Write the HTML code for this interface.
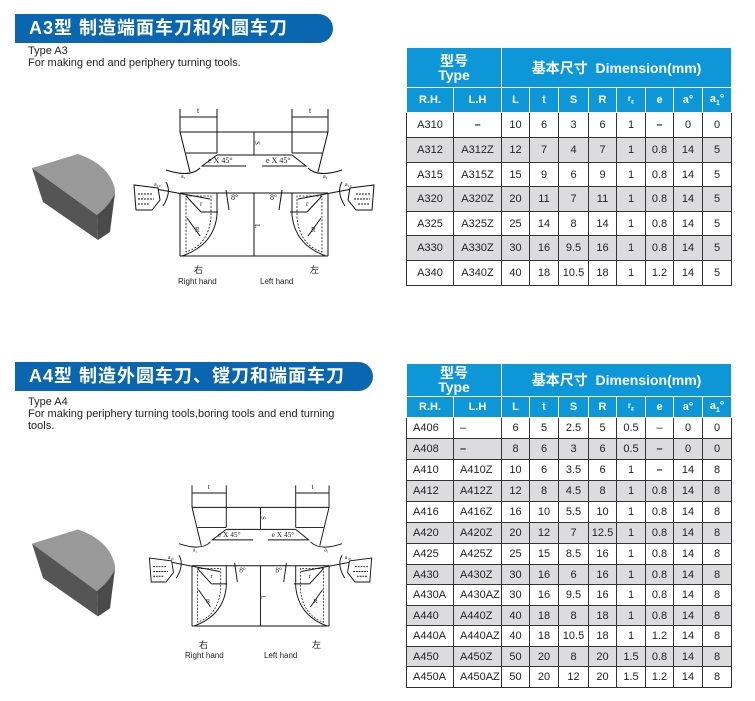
<!DOCTYPE html>
<html><head><meta charset="utf-8"><style>
body{margin:0;width:755px;height:701px;background:#fff;position:relative;overflow:hidden;font-family:"Liberation Sans","Noto Sans CJK SC",sans-serif;}
.bar{position:absolute;left:15px;height:29px;background:#0a66b0;border-radius:0 15px 15px 0;color:#fff;font-weight:bold;font-size:18px;line-height:29px;padding-left:14px;box-sizing:border-box;letter-spacing:1px;}
.txt{position:absolute;left:28px;font-size:11px;line-height:12px;color:#222;}
table{position:absolute;left:406px;border-collapse:collapse;table-layout:fixed;font-size:11px;color:#222;}
td{border:1px solid #333;text-align:center;padding:0;overflow:hidden;white-space:nowrap;}
tr.h td{background:#0d97d9;color:#fff;border-color:#fff;font-weight:bold;}
tr.h1 td{font-size:14px;line-height:14px;}
tr.g td{background:#dcdcde;}
svg{position:absolute;left:0;top:0;}
</style></head><body>
<div class="bar" style="top:14px;width:318px;">A3型 制造端面车刀和外圆车刀</div>
<div class="txt" style="top:45px;">Type A3<br>For making end and periphery turning tools.</div>

<div class="bar" style="top:362px;width:358px;">A4型 制造外圆车刀、镗刀和端面车刀</div>
<div class="txt" style="top:396px;">Type A4<br>For making periphery turning tools,boring tools and end turning<br>tools.</div>

<table style="top:47px;width:325px;">
<colgroup><col style="width:47px"><col style="width:48px"><col style="width:28px"><col style="width:29px"><col style="width:30px"><col style="width:28px"><col style="width:29px"><col style="width:28px"><col style="width:29px"><col style="width:29px"></colgroup>
<tr class="h h1" style="height:40px"><td colspan="2">型号<br>Type</td><td colspan="8">基本尺寸&nbsp; Dimension(mm)</td></tr>
<tr class="h" style="height:25px"><td>R.H.</td><td>L.H</td><td>L</td><td>t</td><td>S</td><td>R</td><td style="font-size:8px">r<sub>ε</sub></td><td>e</td><td>a°</td><td>a<sub style="font-size:7px">1</sub>°</td></tr>
<tr style="height:25px"><td>A310</td><td><b>–</b></td><td>10</td><td>6</td><td>3</td><td>6</td><td>1</td><td><b>–</b></td><td>0</td><td>0</td></tr>
<tr class="g" style="height:25px"><td>A312</td><td>A312Z</td><td>12</td><td>7</td><td>4</td><td>7</td><td>1</td><td>0.8</td><td>14</td><td>5</td></tr>
<tr style="height:24px"><td>A315</td><td>A315Z</td><td>15</td><td>9</td><td>6</td><td>9</td><td>1</td><td>0.8</td><td>14</td><td>5</td></tr>
<tr class="g" style="height:25px"><td>A320</td><td>A320Z</td><td>20</td><td>11</td><td>7</td><td>11</td><td>1</td><td>0.8</td><td>14</td><td>5</td></tr>
<tr style="height:24px"><td>A325</td><td>A325Z</td><td>25</td><td>14</td><td>8</td><td>14</td><td>1</td><td>0.8</td><td>14</td><td>5</td></tr>
<tr class="g" style="height:25px"><td>A330</td><td>A330Z</td><td>30</td><td>16</td><td>9.5</td><td>16</td><td>1</td><td>0.8</td><td>14</td><td>5</td></tr>
<tr style="height:25px"><td>A340</td><td>A340Z</td><td>40</td><td>18</td><td>10.5</td><td>18</td><td>1</td><td>1.2</td><td>14</td><td>5</td></tr>
</table>

<table style="top:363px;width:325px;">
<colgroup><col style="width:47px"><col style="width:48px"><col style="width:28px"><col style="width:29px"><col style="width:30px"><col style="width:28px"><col style="width:29px"><col style="width:28px"><col style="width:29px"><col style="width:29px"></colgroup>
<tr class="h h1" style="height:33px"><td colspan="2">型号<br>Type</td><td colspan="8">基本尺寸&nbsp; Dimension(mm)</td></tr>
<tr class="h" style="height:21px"><td>R.H.</td><td>L.H</td><td>L</td><td>t</td><td>S</td><td>R</td><td style="font-size:8px">r<sub>ε</sub></td><td>e</td><td>a°</td><td>a<sub style="font-size:7px">1</sub>°</td></tr>
<tr style="height:21px"><td style="text-align:left;padding-left:6px">A406</td><td style="text-align:left;padding-left:6px">–</td><td>6</td><td>5</td><td>2.5</td><td>5</td><td>0.5</td><td>–</td><td>0</td><td>0</td></tr>
<tr class="g" style="height:21px"><td style="text-align:left;padding-left:6px">A408</td><td style="text-align:left;padding-left:6px"><b>–</b></td><td>8</td><td>6</td><td>3</td><td>6</td><td>0.5</td><td><b>–</b></td><td>0</td><td>0</td></tr>
<tr style="height:21px"><td style="text-align:left;padding-left:6px">A410</td><td style="text-align:left;padding-left:6px">A410Z</td><td>10</td><td>6</td><td>3.5</td><td>6</td><td>1</td><td><b>–</b></td><td>14</td><td>8</td></tr>
<tr class="g" style="height:21px"><td style="text-align:left;padding-left:6px">A412</td><td style="text-align:left;padding-left:6px">A412Z</td><td>12</td><td>8</td><td>4.5</td><td>8</td><td>1</td><td>0.8</td><td>14</td><td>8</td></tr>
<tr style="height:21px"><td style="text-align:left;padding-left:6px">A416</td><td style="text-align:left;padding-left:6px">A416Z</td><td>16</td><td>10</td><td>5.5</td><td>10</td><td>1</td><td>0.8</td><td>14</td><td>8</td></tr>
<tr class="g" style="height:21px"><td style="text-align:left;padding-left:6px">A420</td><td style="text-align:left;padding-left:6px">A420Z</td><td>20</td><td>12</td><td>7</td><td>12.5</td><td>1</td><td>0.8</td><td>14</td><td>8</td></tr>
<tr style="height:21px"><td style="text-align:left;padding-left:6px">A425</td><td style="text-align:left;padding-left:6px">A425Z</td><td>25</td><td>15</td><td>8.5</td><td>16</td><td>1</td><td>0.8</td><td>14</td><td>8</td></tr>
<tr class="g" style="height:20px"><td style="text-align:left;padding-left:6px">A430</td><td style="text-align:left;padding-left:6px">A430Z</td><td>30</td><td>16</td><td>6</td><td>16</td><td>1</td><td>0.8</td><td>14</td><td>8</td></tr>
<tr style="height:21px"><td style="text-align:left;padding-left:6px">A430A</td><td style="text-align:left;padding-left:6px">A430AZ</td><td>30</td><td>16</td><td>9.5</td><td>16</td><td>1</td><td>0.8</td><td>14</td><td>8</td></tr>
<tr class="g" style="height:20px"><td style="text-align:left;padding-left:6px">A440</td><td style="text-align:left;padding-left:6px">A440Z</td><td>40</td><td>18</td><td>8</td><td>18</td><td>1</td><td>0.8</td><td>14</td><td>8</td></tr>
<tr style="height:21px"><td style="text-align:left;padding-left:6px">A440A</td><td style="text-align:left;padding-left:6px">A440AZ</td><td>40</td><td>18</td><td>10.5</td><td>18</td><td>1</td><td>1.2</td><td>14</td><td>8</td></tr>
<tr class="g" style="height:20px"><td style="text-align:left;padding-left:6px">A450</td><td style="text-align:left;padding-left:6px">A450Z</td><td>50</td><td>20</td><td>8</td><td>20</td><td>1.5</td><td>0.8</td><td>14</td><td>8</td></tr>
<tr style="height:21px"><td style="text-align:left;padding-left:6px">A450A</td><td style="text-align:left;padding-left:6px">A450AZ</td><td>50</td><td>20</td><td>12</td><td>20</td><td>1.5</td><td>1.2</td><td>14</td><td>8</td></tr>
</table>

<svg width="755" height="701" viewBox="0 0 755 701">
<defs>
<g id="blk">
<polygon points="32,168 97,215 98,240 43,202" fill="#555"/>
<polygon points="97,215 115,193 110,232 98,240" fill="#4a4a4a"/>
<path d="M32,168 L78,154 Q110,165 115,190 L115,193 Q110,205 97,215 Z" fill="#999"/>
</g>
<g id="drw" fill="none" stroke="#111" stroke-width="1">
<line x1="180" y1="109" x2="180" y2="132"/><line x1="217" y1="109" x2="217" y2="132"/>
<line x1="180" y1="117" x2="217" y2="117"/>
<line x1="292" y1="109" x2="292" y2="132"/><line x1="328" y1="109" x2="328" y2="132"/>
<line x1="292" y1="117" x2="328" y2="117"/>
<line x1="180" y1="132" x2="328" y2="132"/>
<line x1="217" y1="132" x2="217" y2="153"/><line x1="292" y1="132" x2="292" y2="153"/>
<line x1="186" y1="153" x2="217" y2="153"/><line x1="292" y1="153" x2="322" y2="153"/>
<line x1="217" y1="155" x2="292" y2="155"/>
<line x1="180" y1="132" x2="190" y2="172"/><line x1="328" y1="132" x2="318" y2="172"/>
<polyline points="217,155 202,166 246,166"/>
<polyline points="292,155 306,166 262,166"/>
<line x1="254" y1="132" x2="254" y2="155"/>
<path d="M166,170 Q190,178 200,168"/><path d="M342,170 Q318,178 308,168"/>
<line x1="134" y1="185" x2="210" y2="199"/><line x1="374" y1="185" x2="298" y2="199"/>
<line x1="180" y1="193" x2="328" y2="193"/>
<line x1="180" y1="256" x2="328" y2="256"/>
<line x1="180" y1="193" x2="180" y2="256"/><line x1="328" y1="193" x2="328" y2="256"/>
<path d="M217,193 L217,215 Q214,245 182,256"/>
<path d="M292,193 L292,215 Q295,245 326,256"/>
<path d="M186,196 L211,196 L211,218 Q208,245 186,252 Z" stroke-dasharray="2,1.5" stroke-width="0.8"/>
<path d="M322,196 L297,196 L297,218 Q300,245 322,252 Z" stroke-dasharray="2,1.5" stroke-width="0.8"/>
<line x1="186" y1="196" x2="201" y2="212"/><line x1="201" y1="212" x2="218" y2="212"/>
<line x1="322" y1="196" x2="307" y2="212"/><line x1="307" y1="212" x2="290" y2="212"/>
<line x1="187" y1="218" x2="200" y2="236"/><line x1="321" y1="218" x2="308" y2="236"/>
<line x1="254" y1="193" x2="254" y2="256"/>
<path d="M166,182 Q172,192 163,206"/><path d="M342,182 Q336,192 345,206"/>
<path d="M226,190 L229,210"/><path d="M282,190 L279,210"/>
<path d="M134,185 L158,188 L160,200 L152,210 L136,210 Z" fill="#fff"/>
<path d="M374,185 L350,188 L348,200 L356,210 L372,210 Z" fill="#fff"/>
<line x1="138" y1="194" x2="152" y2="194" stroke-dasharray="2,1"/><line x1="138" y1="199" x2="154" y2="199" stroke-dasharray="2,1"/><line x1="138" y1="204" x2="150" y2="204" stroke-dasharray="2,1"/>
<line x1="356" y1="194" x2="370" y2="194" stroke-dasharray="2,1"/><line x1="354" y1="199" x2="370" y2="199" stroke-dasharray="2,1"/><line x1="358" y1="204" x2="370" y2="204" stroke-dasharray="2,1"/>
</g>
<g id="lbl" font-family="Liberation Serif,serif" font-size="8" fill="#222">
<text x="197" y="113">t</text><text x="309" y="113">t</text>
<text x="208" y="163">e X 45°</text><text x="266" y="163">e X 45°</text>
<text x="255" y="145" font-size="7" transform="rotate(90 257 143)">S</text>
<text x="255" y="228" font-size="7" transform="rotate(90 257 226)">L</text>
<text x="181" y="178" font-size="6">a₁</text><text x="323" y="178" font-size="6">a₁</text>
<text x="154" y="186" font-size="6">a₁₀</text><text x="345" y="186" font-size="6">a₁₀</text>
<text x="231" y="200">8°</text><text x="270" y="200">8°</text>
<text x="200" y="206" font-size="7">r</text><text x="306" y="206" font-size="7">r</text>
<text x="195" y="232" font-size="7">R</text><text x="311" y="232" font-size="7">R</text>
</g>
</defs>
<use href="#blk"/>
<use href="#blk" transform="translate(0,374) scale(1,1.01)"/>
<use href="#drw"/><use href="#lbl"/>
<use href="#drw" transform="translate(192,493) scale(0.926,0.957) translate(-180,-117)"/>
<use href="#lbl" transform="translate(192,493) scale(0.926,0.957) translate(-180,-117)"/>
<g font-family="Liberation Sans,Noto Sans CJK SC,sans-serif" fill="#222">
<text x="194" y="273" font-size="9">右</text><text x="310" y="273" font-size="9">左</text>
<text x="178" y="284" font-size="8">Right hand</text><text x="260" y="284" font-size="8">Left hand</text>
<text x="199" y="648" font-size="9">右</text><text x="312" y="648" font-size="9">左</text>
<text x="185" y="658" font-size="8">Right hand</text><text x="264" y="658" font-size="8">Left hand</text>
</g>
</svg>
</body></html>
